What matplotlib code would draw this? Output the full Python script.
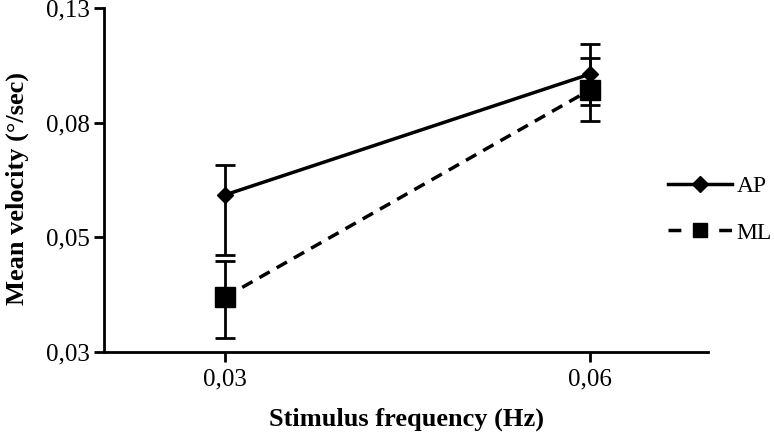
import matplotlib
matplotlib.use("Agg")
import matplotlib.pyplot as plt
from matplotlib.ticker import FixedLocator, FixedFormatter, NullLocator
from matplotlib.lines import Line2D
import numpy as np

categories = ["0,03", "0,06"]
ap_mean = [0.0586, 0.0981]
ap_low = [0.0454, 0.0860]
ap_high = [0.0666, 0.1115]
ml_mean = [0.0379, 0.0917]
ml_low = [0.0318, 0.0803]
ml_high = [0.0442, 0.1050]
ytick_labels = ["0,03", "0,05", "0,08", "0,13"]

plt.rcParams['font.family'] = ['Liberation Serif', 'DejaVu Serif']

fig = plt.figure(figsize=(7.74, 4.36), dpi=100)
ax = fig.add_axes([0.1344, 0.1927, 0.7803, 0.789])

x = np.arange(len(categories))
ap_mean_a = np.array(ap_mean)
ml_mean_a = np.array(ml_mean)
ap_err = [ap_mean_a - np.array(ap_low), np.array(ap_high) - ap_mean_a]
ml_err = [ml_mean_a - np.array(ml_low), np.array(ml_high) - ml_mean_a]

dash = (0, (3.4, 2.3))
ax.errorbar(x, ap_mean, yerr=ap_err, color='black', lw=2.5, marker='D', ms=8,
            capsize=7, capthick=2, elinewidth=2, zorder=3)
ax.errorbar(x, ml_mean, yerr=ml_err, color='black', lw=2.5, ls=dash, marker='s', ms=14,
            capsize=7, capthick=2, elinewidth=2, zorder=3)

ax.set_yscale('log')
ax.set_ylim(0.03, 0.13)
r = (0.13 / 0.03) ** (1 / 3)
yt = [0.03 * r ** k for k in range(4)]
ax.yaxis.set_major_locator(FixedLocator(yt))
ax.yaxis.set_major_formatter(FixedFormatter(ytick_labels))
ax.yaxis.set_minor_locator(NullLocator())

ax.set_xlim(-0.3315, 1.323)
ax.set_xticks(x)
ax.set_xticklabels(categories)

for s in ['top', 'right']:
    ax.spines[s].set_visible(False)
for s in ['left', 'bottom']:
    ax.spines[s].set_linewidth(2)
ax.tick_params(axis='both', direction='out', width=2, length=7, labelsize=18, pad=5)
ax.tick_params(axis='y', pad=3)

ax.set_ylabel('Mean velocity (°/sec)', fontsize=19, fontweight='bold')
ax.yaxis.set_label_coords(-0.125, 0.474)
ax.set_xlabel('Stimulus frequency (Hz)', fontsize=19, fontweight='bold', labelpad=12)

handles = [
    Line2D([], [], color='black', lw=2.5, marker='D', ms=8),
    Line2D([], [], color='black', lw=2.5, ls=(0, (3.7, 10.9)), marker='s', ms=10),
]
leg = fig.legend(handles, ['AP', 'ML'], loc='upper left', bbox_to_anchor=(0.863, 0.597),
                 frameon=False, fontsize=17, handlelength=2.71, handletextpad=0.2,
                 labelspacing=1.05, borderpad=0, borderaxespad=0)

fig.savefig('out.png', dpi=100)
